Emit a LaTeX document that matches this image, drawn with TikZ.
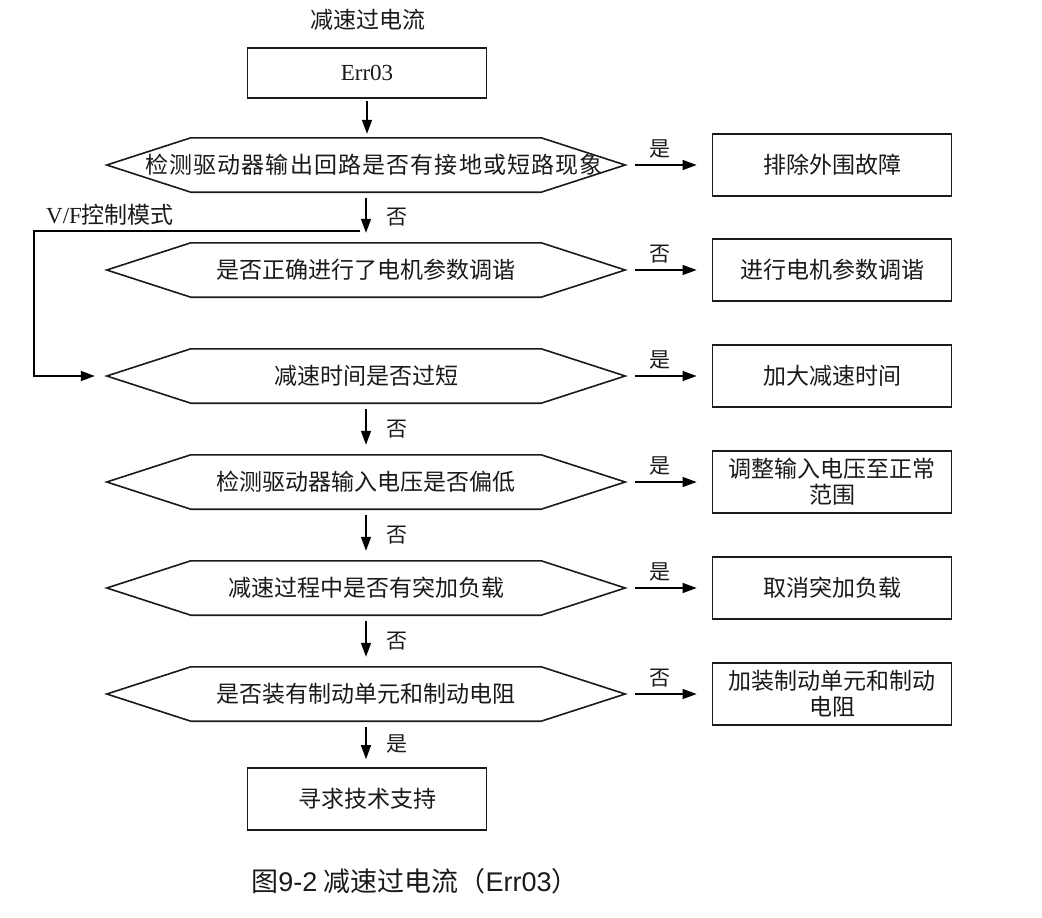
\documentclass[tikz,border=0pt]{standalone}
\usepackage{fontspec}
\setmainfont{Liberation Serif}
\newfontfamily\cjk{Noto Sans CJK SC}
\newfontfamily\cjkw[LetterSpace=5]{Noto Sans CJK SC}
\newfontfamily\arial{Liberation Sans}
\usetikzlibrary{arrows.meta}
\definecolor{ink}{HTML}{1A1A1A}
\tikzset{
  txt/.style={font=\cjk\fontsize{23}{28}\selectfont, text=ink},
  box/.style={txt, draw=ink, line width=1.8pt, minimum width=239pt, minimum height=62pt, inner sep=0pt, align=center},
  hexn/.style={txt, minimum width=518pt, minimum height=54pt, inner sep=0pt},
  hexline/.style={draw=ink, line width=1.6pt, line join=miter},
  arr/.style={draw=black, line width=1.4pt, -{Triangle[length=14pt,width=10pt]}},
  down/.style={arr, shorten <=6pt, shorten >=10pt},
  side/.style={arr, shorten <=10pt, shorten >=15pt},
  lab/.style={font=\cjk\fontsize{21}{24}\selectfont, text=ink, inner sep=0pt},
}
\newcommand\hexpath[1]{\draw[hexline] ([xshift=84pt]#1.north west) -- ([xshift=-84pt]#1.north east) -- (#1.east) -- ([xshift=-84pt]#1.south east) -- ([xshift=84pt]#1.south west) -- (#1.west) -- cycle;}
\begin{document}
\begin{tikzpicture}[x=1pt,y=-1pt]
\useasboundingbox[fill=white] (0,0) rectangle (1042,918);

\node[txt] (title) at (368,20) {减速过电流};
\node[box, minimum height=50pt, font=\rmfamily\fontsize{23}{28}\selectfont] (e) at (367,73) {Err03};

\node[hexn] (h1) at (366,165) {};
\node[font=\cjkw\fontsize{23}{28}\selectfont, text=ink, inner sep=0pt] (h1t) at (374,165) {检测驱动器输出回路是否有接地或短路现象};
\node[hexn] (h2) at (366,270) {是否正确进行了电机参数调谐};
\node[hexn] (h3) at (366,376) {减速时间是否过短};
\node[hexn] (h4) at (366,482) {检测驱动器输入电压是否偏低};
\node[hexn] (h5) at (366,588) {减速过程中是否有突加负载};
\node[hexn] (h6) at (366,694) {是否装有制动单元和制动电阻};
\foreach \h in {h1,h2,h3,h4,h5,h6} {\hexpath{\h}}

\node[box] (r1) at (832,165) {排除外围故障};
\node[box] (r2) at (832,270) {进行电机参数调谐};
\node[box] (r3) at (832,376) {加大减速时间};
\node[box, font=\cjk\fontsize{23}{26}\selectfont] (r4) at (832,482) {调整输入电压至正常\\范围};
\node[box] (r5) at (832,588) {取消突加负载};
\node[box, font=\cjk\fontsize{23}{26}\selectfont] (r6) at (832,694) {加装制动单元和制动\\电阻};

\node[box] (fin) at (367,799) {寻求技术支持};

\node[font=\cjk\fontsize{27}{32}\selectfont, text=ink] (cap) at (415,881) {图{\arial 9-2} 减速过电流（{\arial Err03}）};

% vertical connectors
\draw[arr, shorten <=2pt, shorten >=4pt] (e.south) -- (e.south |- h1.north);
\draw[down] (h1.south) -- node[lab, right=20pt] {否} (h2.north);
\draw[down] (h3.south) -- node[lab, right=20pt] {否} (h4.north);
\draw[down] (h4.south) -- node[lab, right=20pt] {否} (h5.north);
\draw[down] (h5.south) -- node[lab, right=20pt] {否} (h6.north);
\draw[down, shorten >=8pt] (h6.south) -- node[lab, right=20pt] {是} (h6.south |- fin.north);

% side connectors
\draw[side] (h1.east) -- node[lab, above=6pt, pos=0.4] {是} (r1.west);
\draw[side] (h2.east) -- node[lab, above=6pt, pos=0.4] {否} (r2.west);
\draw[side] (h3.east) -- node[lab, above=6pt, pos=0.4] {是} (r3.west);
\draw[side] (h4.east) -- node[lab, above=6pt, pos=0.4] {是} (r4.west);
\draw[side] (h5.east) -- node[lab, above=6pt, pos=0.4] {是} (r5.west);
\draw[side] (h6.east) -- node[lab, above=6pt, pos=0.4] {否} (r6.west);

% V/F branch
\coordinate (vf1) at (360,231);
\coordinate (vf2) at (34,231);
\node[anchor=south west, inner sep=0pt, font=\rmfamily\fontsize{23}{28}\selectfont, text=ink] (vflab) at (46,226) {V/F{\cjk 控制模式}};
\draw[arr, line width=1.4pt, shorten >=12pt] (vf1) -- (vf2) |- (h3.west);
\end{tikzpicture}
\end{document}
